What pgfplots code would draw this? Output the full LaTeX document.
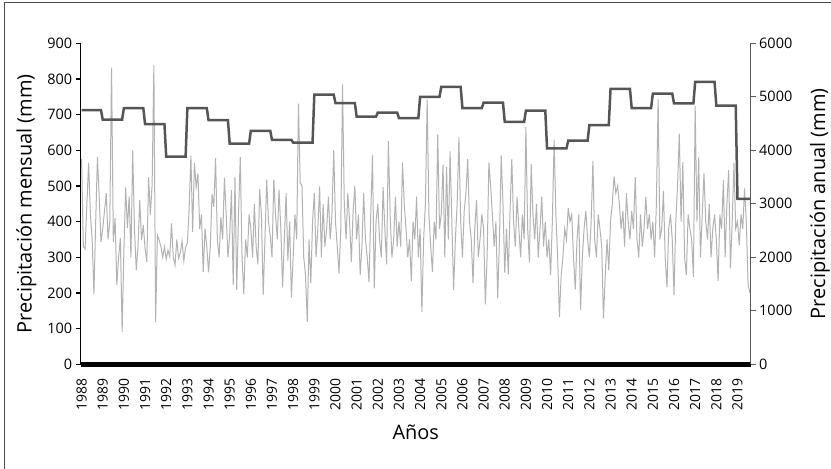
\documentclass[border=0pt]{standalone}
\usepackage{fontspec}
\setmainfont{Open Sans}
\usepackage{pgfplots}
\usepackage{pgfplotstable}
\pgfplotsset{compat=1.18}
\definecolor{monthgray}{RGB}{178,178,178}
\definecolor{yeargray}{RGB}{85,85,85}
\definecolor{raxis}{RGB}{90,90,90}

\pgfplotstableread[row sep=\\]{v\\
575\\ 330\\ 323\\ 450\\ 565\\ 420\\ 350\\ 197\\ 400\\ 581\\ 470\\ 343\\
380\\ 430\\ 480\\ 350\\ 400\\ 832\\ 343\\ 410\\ 222\\ 300\\ 354\\ 90\\
320\\ 496\\ 382\\ 471\\ 300\\ 600\\ 380\\ 264\\ 330\\ 460\\ 348\\ 390\\
325\\ 287\\ 525\\ 420\\ 502\\ 838\\ 118\\ 362\\ 348\\ 330\\ 300\\ 329\\
295\\ 320\\ 301\\ 395\\ 300\\ 278\\ 350\\ 297\\ 313\\ 345\\ 290\\ 328\\
340\\ 437\\ 586\\ 371\\ 565\\ 497\\ 535\\ 380\\ 420\\ 259\\ 380\\ 330\\
258\\ 330\\ 477\\ 441\\ 579\\ 350\\ 300\\ 413\\ 350\\ 523\\ 423\\ 300\\
360\\ 488\\ 222\\ 525\\ 208\\ 420\\ 581\\ 300\\ 196\\ 350\\ 300\\ 420\\
380\\ 300\\ 450\\ 330\\ 280\\ 491\\ 420\\ 194\\ 350\\ 518\\ 400\\ 360\\
300\\ 518\\ 420\\ 350\\ 490\\ 380\\ 216\\ 350\\ 480\\ 290\\ 400\\ 188\\
300\\ 420\\ 350\\ 731\\ 509\\ 500\\ 300\\ 250\\ 119\\ 350\\ 227\\ 400\\
480\\ 300\\ 380\\ 499\\ 300\\ 450\\ 330\\ 380\\ 470\\ 350\\ 420\\ 600\\
400\\ 330\\ 255\\ 380\\ 785\\ 450\\ 350\\ 480\\ 400\\ 287\\ 430\\ 500\\
350\\ 420\\ 250\\ 330\\ 480\\ 350\\ 300\\ 231\\ 420\\ 586\\ 213\\ 400\\
450\\ 350\\ 300\\ 497\\ 380\\ 280\\ 626\\ 420\\ 300\\ 350\\ 470\\ 330\\
400\\ 330\\ 566\\ 450\\ 380\\ 300\\ 350\\ 233\\ 400\\ 350\\ 470\\ 300\\
380\\ 147\\ 350\\ 450\\ 743\\ 420\\ 330\\ 259\\ 400\\ 350\\ 644\\ 380\\
420\\ 560\\ 300\\ 553\\ 350\\ 597\\ 400\\ 208\\ 350\\ 450\\ 637\\ 400\\
300\\ 430\\ 480\\ 575\\ 400\\ 350\\ 228\\ 380\\ 460\\ 300\\ 350\\ 420\\
380\\ 168\\ 300\\ 566\\ 500\\ 420\\ 330\\ 400\\ 185\\ 350\\ 586\\ 450\\
257\\ 380\\ 252\\ 430\\ 575\\ 400\\ 330\\ 470\\ 380\\ 300\\ 420\\ 350\\
665\\ 380\\ 285\\ 561\\ 420\\ 350\\ 450\\ 300\\ 380\\ 470\\ 330\\ 400\\
300\\ 350\\ 250\\ 400\\ 630\\ 420\\ 300\\ 132\\ 250\\ 300\\ 380\\ 350\\
438\\ 400\\ 420\\ 300\\ 210\\ 350\\ 420\\ 152\\ 300\\ 380\\ 430\\ 350\\
300\\ 400\\ 570\\ 350\\ 300\\ 420\\ 380\\ 330\\ 129\\ 250\\ 350\\ 264\\
400\\ 450\\ 527\\ 480\\ 500\\ 450\\ 380\\ 430\\ 330\\ 480\\ 400\\ 350\\
430\\ 380\\ 525\\ 350\\ 300\\ 420\\ 330\\ 380\\ 470\\ 380\\ 420\\ 350\\
400\\ 300\\ 450\\ 743\\ 350\\ 380\\ 486\\ 300\\ 216\\ 380\\ 420\\ 350\\
194\\ 400\\ 500\\ 647\\ 400\\ 567\\ 300\\ 250\\ 420\\ 380\\ 350\\ 245\\
724\\ 400\\ 580\\ 300\\ 420\\ 535\\ 400\\ 350\\ 450\\ 300\\ 380\\ 420\\
350\\ 234\\ 420\\ 380\\ 516\\ 300\\ 450\\ 544\\ 269\\ 400\\ 565\\ 380\\
400\\ 334\\ 420\\ 380\\ 493\\ 400\\ 225\\ 200\\
}\monthly

\begin{document}
\begin{tikzpicture}[x=1bp,y=1bp]
\path[use as bounding box] (0,0) rectangle (831,469);
\draw[black!70, line width=1bp] (4.5,0) -- (4.5,466.5) -- (831,466.5);
\begin{axis}[
  at={(80.7bp,104.7bp)}, anchor=south west,
  scale only axis, width=670bp, height=321bp,
  xmin=-0.5, xmax=379.5, ymin=0, ymax=900,
  axis x line*=bottom, axis y line*=left,
  x axis line style={line width=5bp, black},
  y axis line style={line width=1.5bp, black},
  ytick={0,100,...,900},
  xtick={0,12,...,372},
  xticklabels={1988,1989,1990,1991,1992,1993,1994,1995,1996,1997,1998,1999,2000,2001,2002,2003,2004,2005,2006,2007,2008,2009,2010,2011,2012,2013,2014,2015,2016,2017,2018,2019},
  xtick style={draw=none},
  ytick style={line width=1.2bp, black},
  tick align=outside, major tick length=5bp,
  tick label style={font=\fontsize{14.5}{14.5}\selectfont},
  xticklabel style={rotate=90, anchor=east, font=\fontsize{14}{14}\selectfont},
  xticklabel shift={6bp},
  /pgf/number format/assume math mode=true,
  /pgf/number format/set thousands separator={},
  ylabel={Precipitación mensual (mm)},
  ylabel style={at={(axis description cs:-0.081,0.5)}, anchor=center, font=\fontsize{20}{20}\selectfont},
  xlabel={Años},
  xlabel style={at={(axis description cs:0.5,-0.211)}, anchor=center, font=\fontsize{20}{20}\selectfont},
]
\addplot[monthgray, line width=1bp] table[x expr=\coordindex, y=v] {\monthly};
\end{axis}
\begin{axis}[
  at={(80.7bp,104.7bp)}, anchor=south west,
  scale only axis, width=670bp, height=321bp,
  xmin=-0.5, xmax=379.5, ymin=0, ymax=6000,
  axis x line=none, axis y line*=right,
  y axis line style={line width=1.5bp, raxis},
  ytick={0,1000,...,6000},
  ytick style={line width=1.2bp, raxis},
  tick align=outside, major tick length=5bp,
  tick label style={font=\fontsize{14.5}{14.5}\selectfont},
  /pgf/number format/assume math mode=true,
  /pgf/number format/set thousands separator={},
  ylabel={Precipitación anual (mm)},
  ylabel style={at={(axis description cs:1.1034,0.5)}, anchor=center, rotate=0, font=\fontsize{20}{20}\selectfont},
]
\addplot[yeargray, line width=2.5bp] coordinates {
(0,4750) (11,4750) (12,4575) (23,4575) (24,4790) (35,4790) (36,4490) (47,4490)
(48,3880) (59,3880) (60,4790) (71,4790) (72,4565) (83,4565) (84,4125) (95,4125)
(96,4365) (107,4365) (108,4195) (119,4195) (120,4145) (131,4145) (132,5040) (143,5040)
(144,4880) (155,4880) (156,4630) (167,4630) (168,4705) (179,4705) (180,4600) (191,4600)
(192,5000) (203,5000) (204,5185) (215,5185) (216,4790) (227,4790) (228,4890) (239,4890)
(240,4530) (251,4530) (252,4740) (263,4740) (264,4035) (275,4035) (276,4180) (287,4180)
(288,4470) (299,4470) (300,5150) (311,5150) (312,4790) (323,4790) (324,5060) (335,5060)
(336,4875) (347,4875) (348,5280) (359,5280) (360,4835) (371,4835) (372,3090) (379,3090)
};
\end{axis}
\end{tikzpicture}
\end{document}
